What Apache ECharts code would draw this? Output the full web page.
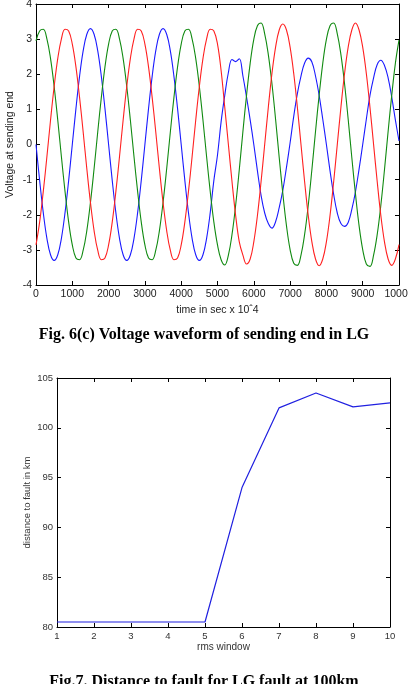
<!DOCTYPE html>
<html>
<head>
<meta charset="utf-8">
<script src="https://cdn.jsdelivr.net/npm/echarts/dist/echarts.min.js"></script>
<style>
    html, body { margin: 0; padding: 0; background: #fff; }
    #chart { width: 408px; height: 684px; }
</style>
</head>
<body>
<div id="chart"></div>
<script>
// Fig. 6(c) - sending end voltages, one sample every 100 units of time
const timeStep = 100;
const phaseBlue = [
    0, -1.02, -1.94, -2.67, -3.14, -3.30, -3.14, -2.67, -1.94, -1.02, 0, 1.02, 1.94, 2.67, 3.14, 3.30, 3.14, 2.67, 1.94, 1.02,
    0, -1.02, -1.94, -2.67, -3.14, -3.30, -3.14, -2.67, -1.94, -1.02, 0, 1.02, 1.94, 2.67, 3.14, 3.30, 3.14, 2.67, 1.94, 1.02,
    0, -1.02, -1.94, -2.67, -3.14, -3.30, -3.14, -2.67, -1.94, -1.02, -0.30,
    0.65, 1.40, 2.05, 2.42, 2.36, 2.44, 1.95, 1.35, 0.70, 0.00,
    -0.75, -1.45, -1.95, -2.25, -2.38, -2.20, -1.80, -1.30, -0.65, 0.05,
    0.80, 1.45, 1.95, 2.32, 2.46, 2.35, 1.95, 1.40, 0.72, 0.00,
    -0.75, -1.42, -1.95, -2.25, -2.33, -2.22, -1.85, -1.35, -0.70, 0.00,
    0.72, 1.40, 1.90, 2.28, 2.40, 2.25, 1.90, 1.35, 0.70, 0.10
];
const phaseGreen = [
    2.95, 3.23, 3.28, 3.01, 2.45, 1.65, 0.69, -0.35, -1.34, -2.21, -2.86, -3.23, -3.28, -3.01, -2.45, -1.65, -0.69, 0.35, 1.34, 2.21,
    2.86, 3.23, 3.28, 3.01, 2.45, 1.65, 0.69, -0.35, -1.34, -2.21, -2.86, -3.23, -3.28, -3.01, -2.45, -1.65, -0.69, 0.35, 1.34, 2.21,
    2.86, 3.23, 3.28, 3.01, 2.45, 1.65, 0.69, -0.35, -1.34, -2.21, -2.86,
    -3.28, -3.43, -3.15, -2.56, -1.73, -0.72, 0.37, 1.40, 2.31, 2.99,
    3.38, 3.46, 3.15, 2.56, 1.73, 0.72, -0.37, -1.40, -2.31, -2.99,
    -3.38, -3.44, -3.15, -2.56, -1.73, -0.72, 0.37, 1.40, 2.31, 2.99,
    3.38, 3.46, 3.15, 2.56, 1.73, 0.72, -0.37, -1.40, -2.31, -2.99,
    -3.40, -3.47, -3.15, -2.56, -1.73, -0.72, 0.37, 1.40, 2.31, 2.97
];
const phaseRed = [
    -2.86, -2.21, -1.34, -0.35, 0.69, 1.65, 2.45, 3.01, 3.28, 3.23, 2.86, 2.21, 1.34, 0.35, -0.69, -1.65, -2.45, -3.01, -3.28, -3.23,
    -2.86, -2.21, -1.34, -0.35, 0.69, 1.65, 2.45, 3.01, 3.28, 3.23, 2.86, 2.21, 1.34, 0.35, -0.69, -1.65, -2.45, -3.01, -3.28, -3.23,
    -2.86, -2.21, -1.34, -0.35, 0.69, 1.65, 2.45, 3.01, 3.28, 3.23, 2.86,
    2.10, 1.06, 0.00, -1.06, -2.02, -2.77, -3.15, -3.40, -3.26, -2.77,
    -2.02, -1.06, 0.00, 1.06, 2.02, 2.77, 3.26, 3.43, 3.26, 2.77,
    2.02, 1.06, 0.00, -1.06, -2.02, -2.77, -3.26, -3.45, -3.26, -2.77,
    -2.02, -1.06, 0.00, 1.06, 2.02, 2.77, 3.26, 3.46, 3.26, 2.77,
    2.02, 1.06, 0.00, -1.06, -2.02, -2.77, -3.26, -3.44, -3.26, -2.85
];

// Fig. 7 - distance to fault per rms window
const rmsWindows = [1, 2, 3, 4, 5, 6, 7, 8, 9, 10];
const faultDistance = [80.5, 80.5, 80.5, 80.5, 80.5, 94.0, 102.0, 103.5, 102.1, 102.5];

const sansFont = '"Liberation Sans", Arial, sans-serif';
const serifFont = '"Liberation Serif", "Times New Roman", serif';

function toPairs(values) {
    return values.map((v, i) => [i * timeStep, v]);
}

function boxAxis(grid, pos, min, max, interval, labels, extra) {
    return Object.assign({
        gridIndex: grid,
        type: 'value',
        position: pos,
        min: min,
        max: max,
        interval: interval,
        nameMoveOverlap: false,
        axisLine: { show: true, onZero: false, lineStyle: { color: '#000', width: 1 } },
        axisTick: { show: true, inside: true, length: 4, lineStyle: { color: '#000', width: 1 } },
        axisLabel: labels,
        splitLine: { show: false }
    }, extra || {});
}

const chart = echarts.init(document.getElementById('chart'), null, { renderer: 'canvas' });

// matlab prints plain numbers, no thousands separator
const plain = (v) => String(v);
const topLabel = { show: true, fontSize: 10.5, color: '#222', fontFamily: sansFont, margin: 4, showMinLabel: true, showMaxLabel: true, formatter: plain };
const lowLabel = { show: true, fontSize: 9.5, color: '#333', fontFamily: sansFont, margin: 4, showMinLabel: true, showMaxLabel: true, formatter: plain };

chart.setOption({
    animation: false,
    backgroundColor: '#fff',
    grid: [
        { left: 36, top: 4, width: 363, height: 281, outerBoundsMode: 'none', containLabel: false },
        { left: 57, top: 378, width: 333, height: 249, outerBoundsMode: 'none', containLabel: false }
    ],
    xAxis: [
        boxAxis(0, 'bottom', 0, 10000, 1000, topLabel, {
            name: 'time in sec x 10ˆ4',
            nameLocation: 'middle',
            nameGap: 20,
            nameTextStyle: { fontSize: 10.5, color: '#222', fontFamily: sansFont }
        }),
        boxAxis(0, 'top', 0, 10000, 1000, { show: false }),
        boxAxis(1, 'bottom', 1, 10, 1, lowLabel, {
            name: 'rms window',
            nameLocation: 'middle',
            nameGap: 15,
            nameTextStyle: { fontSize: 10, color: '#333', fontFamily: sansFont }
        }),
        boxAxis(1, 'top', 1, 10, 1, { show: false })
    ],
    yAxis: [
        boxAxis(0, 'left', -4, 4, 1, topLabel, {
            name: 'Voltage at sending end',
            nameLocation: 'middle',
            nameGap: 20,
            nameTextStyle: { fontSize: 10.5, color: '#222', fontFamily: sansFont }
        }),
        boxAxis(0, 'right', -4, 4, 1, { show: false }),
        boxAxis(1, 'left', 80, 105, 5, lowLabel, {
            name: 'distance to fault in km',
            nameLocation: 'middle',
            nameGap: 25,
            nameTextStyle: { fontSize: 9.5, color: '#333', fontFamily: sansFont }
        }),
        boxAxis(1, 'right', 80, 105, 5, { show: false })
    ],
    graphic: [
        {
            type: 'text', left: 'center', top: 327,
            style: { text: 'Fig. 6(c) Voltage waveform of sending end in LG', font: 'bold 16px ' + serifFont, fill: '#000' }
        },
        {
            type: 'text', left: 'center', top: 674,
            style: { text: 'Fig.7. Distance to fault for LG fault at 100km', font: 'bold 16px ' + serifFont, fill: '#000' }
        }
    ],
    series: [
        {
            type: 'line', xAxisIndex: 0, yAxisIndex: 0, data: toPairs(phaseBlue),
            showSymbol: false, smooth: 0.4, lineStyle: { color: '#1a1aff', width: 1.1 }
        },
        {
            type: 'line', xAxisIndex: 0, yAxisIndex: 0, data: toPairs(phaseGreen),
            showSymbol: false, smooth: 0.4, lineStyle: { color: '#108a10', width: 1.1 }
        },
        {
            type: 'line', xAxisIndex: 0, yAxisIndex: 0, data: toPairs(phaseRed),
            showSymbol: false, smooth: 0.4, lineStyle: { color: '#ff2020', width: 1.1 }
        },
        {
            type: 'line', xAxisIndex: 2, yAxisIndex: 2,
            data: rmsWindows.map((w, i) => [w, faultDistance[i]]),
            showSymbol: false, lineStyle: { color: '#2020e0', width: 1.2 }
        }
    ]
});
</script>
</body>
</html>
